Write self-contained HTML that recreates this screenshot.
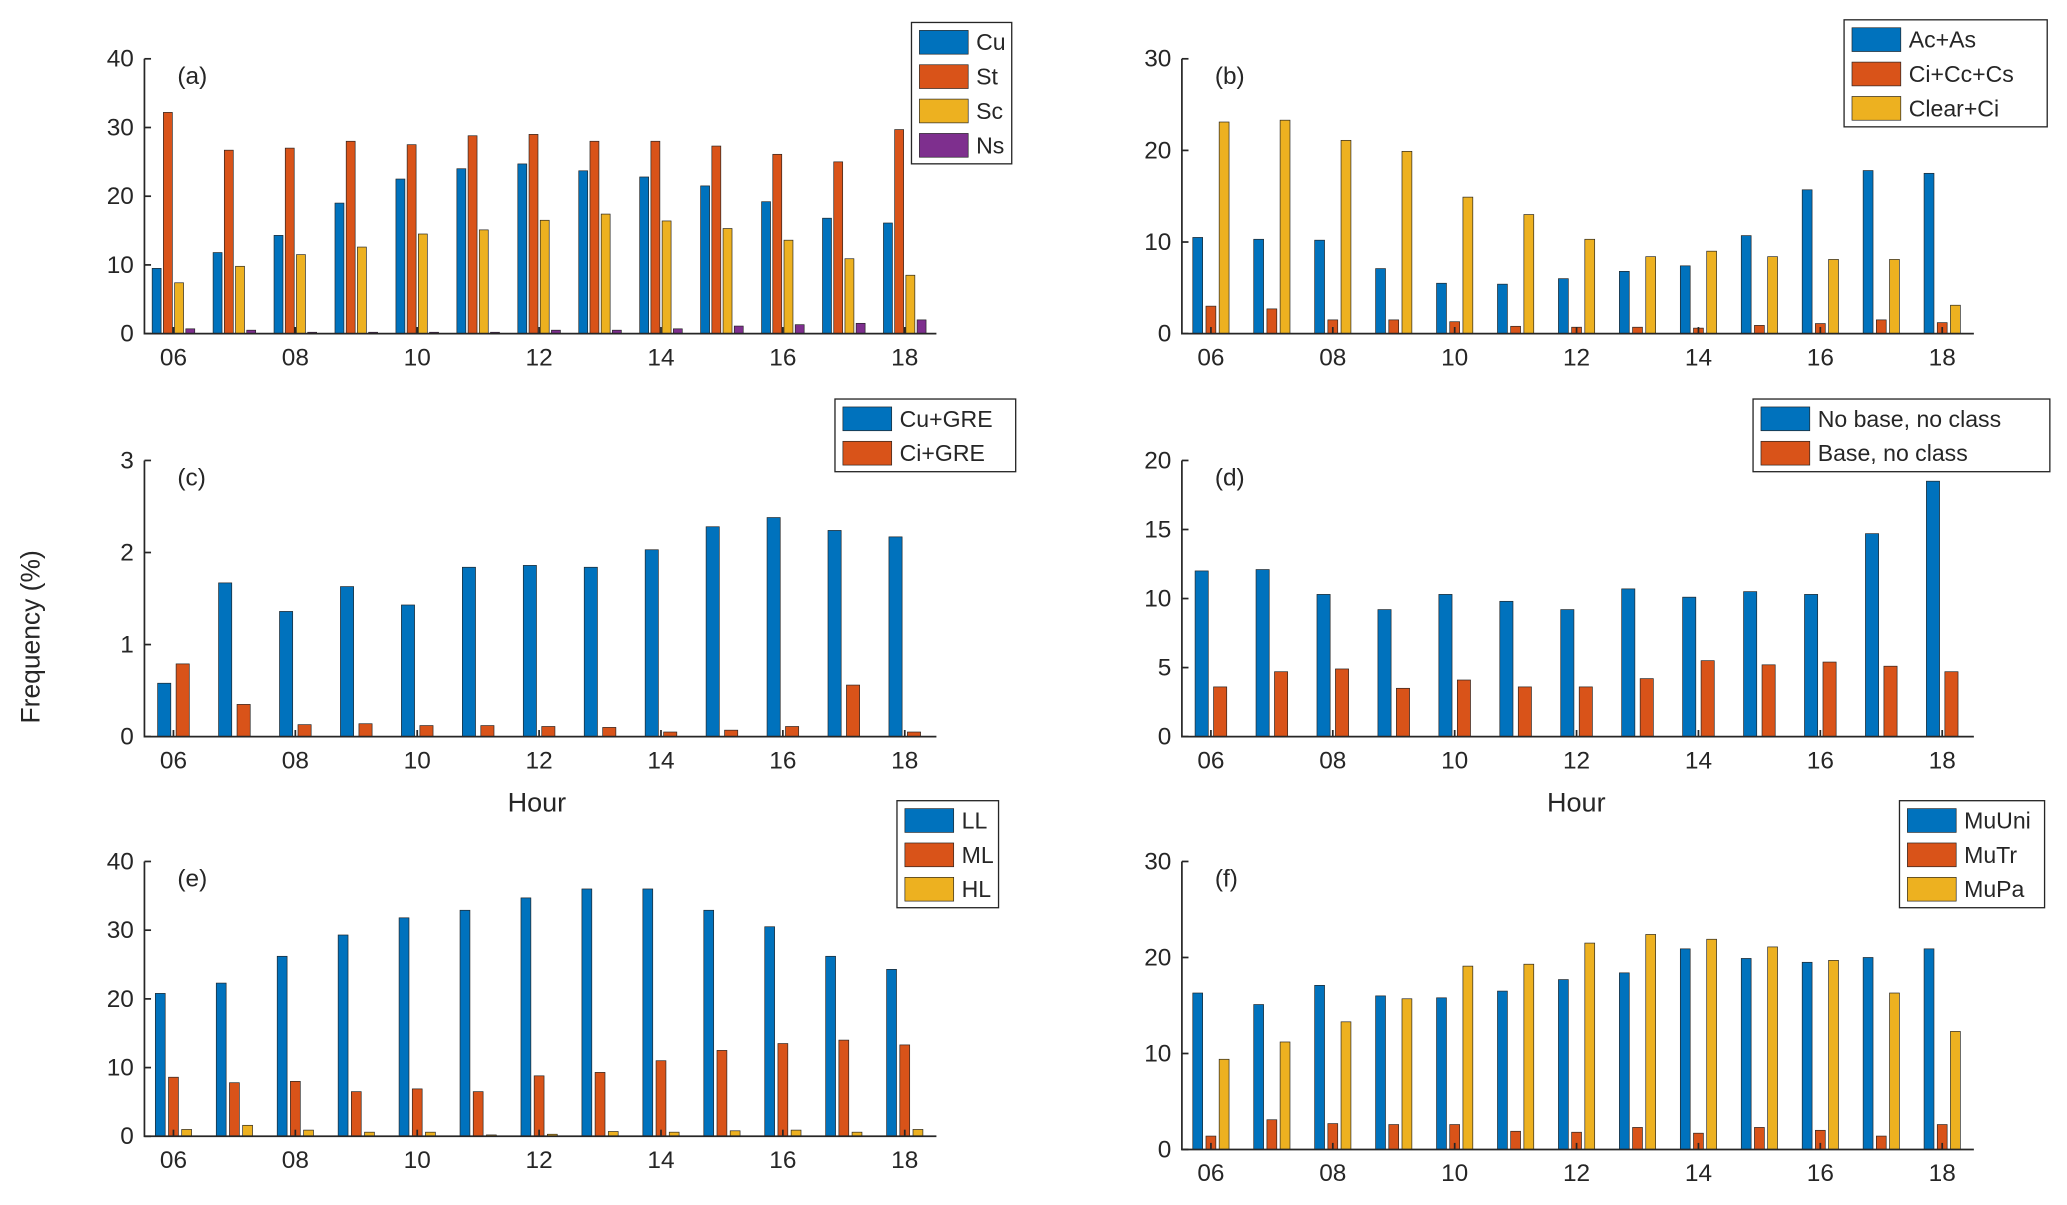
<!DOCTYPE html>
<html><head><meta charset="utf-8"><style>
html,body{margin:0;padding:0;background:#fff}
svg{display:block}
text{font-family:"Liberation Sans",sans-serif;fill:#262626}
</style></head><body>
<svg id="c" width="2067" height="1205" viewBox="0 0 1567 912" preserveAspectRatio="none" xmlns="http://www.w3.org/2000/svg"></svg>
<script>
const hours=[6,7,8,9,10,11,12,13,14,15,16,17,18];
const tickHours=[6,8,10,12,14,16,18];
const aCu=[9.5,11.8,14.3,19,22.5,24,24.7,23.7,22.8,21.5,19.2,16.8,16.1];
const aSt=[32.2,26.7,27,28,27.5,28.8,29,28,28,27.3,26.1,25,29.7];
const aSc=[7.4,9.8,11.5,12.6,14.5,15.1,16.5,17.4,16.4,15.3,13.6,10.9,8.5];
const aNs=[0.7,0.5,0.2,0.2,0.2,0.2,0.5,0.5,0.7,1.1,1.3,1.5,2];
const bAc=[10.5,10.3,10.2,7.1,5.5,5.4,6,6.8,7.4,10.7,15.7,17.8,17.5];
const bCi=[3,2.7,1.5,1.5,1.3,0.8,0.7,0.7,0.6,0.9,1.1,1.5,1.2];
const bClear=[23.1,23.3,21.1,19.9,14.9,13,10.3,8.4,9,8.4,8.1,8.1,3.1];
const cCu=[0.58,1.67,1.36,1.63,1.43,1.84,1.86,1.84,2.03,2.28,2.38,2.24,2.17];
const cCi=[0.79,0.35,0.13,0.14,0.12,0.12,0.11,0.10,0.05,0.07,0.11,0.56,0.05];
const dNoBase=[12,12.1,10.3,9.2,10.3,9.8,9.2,10.7,10.1,10.5,10.3,14.7,18.5];
const dBase=[3.6,4.7,4.9,3.5,4.1,3.6,3.6,4.2,5.5,5.2,5.4,5.1,4.7];
const eLL=[20.8,22.3,26.2,29.3,31.8,32.9,34.7,36,36,32.9,30.5,26.2,24.3];
const eML=[8.6,7.8,8,6.5,6.9,6.5,8.8,9.3,11,12.5,13.5,14,13.3];
const eHL=[1,1.6,0.9,0.6,0.6,0.2,0.3,0.7,0.6,0.8,0.9,0.6,1];
const fUni=[16.3,15.1,17.1,16,15.8,16.5,17.7,18.4,20.9,19.9,19.5,20,20.9];
const fTr=[1.4,3.1,2.7,2.6,2.6,1.9,1.8,2.3,1.7,2.3,2,1.4,2.6];
const fPa=[9.4,11.2,13.3,15.7,19.1,19.3,21.5,22.4,21.9,21.1,19.7,16.3,12.3];
const COLORS=['#0072BD','#D95319','#EDB120','#7E2F8E'];
const svg=document.getElementById('c');
const NS='http://www.w3.org/2000/svg';
function el(t,a,p){const e=document.createElementNS(NS,t);for(const k in a)e.setAttribute(k,a[k]);(p||svg).appendChild(e);return e;}
function panel(cfg){
  const g=el('g',{});
  
  
  const sp=46.2, x0=cfg.x0;
  const xs=h=>x0+(h-6)*sp;
  const ys=v=>cfg.bottom-(v/cfg.ymax)*(cfg.bottom-cfg.top);
  const left=x0-22, right=x0+12*sp+24;
  const n=cfg.series.length;
  const step=n===4?8.5:(n===3?10:14), bw=n===4?6.8:(n===3?7.5:10);
  cfg.series.forEach((s,si)=>{
    s.forEach((v,i)=>{
      const cx=xs(hours[i])+(si-(n-1)/2)*step;
      const r=el('rect',{x:cx-bw/2,y:ys(v),width:bw,height:Math.max(0.4,cfg.bottom-ys(v)),fill:COLORS[si],stroke:'#222','stroke-width':0.5},g);
      
      
    });
  });
  el('path',{d:`M${left},${cfg.top}V${cfg.bottom}H${right}`,stroke:'#262626','stroke-width':1.3,fill:'none'},g);
  cfg.yticks.forEach(v=>{
    const y=ys(v);
    el('line',{x1:left,x2:left+5,y1:y,y2:y,stroke:'#262626','stroke-width':1.3},g);
    const t=el('text',{x:left-8,y:y+6,'text-anchor':'end','font-size':18.5},g);t.textContent=v;
    
    
  });
  tickHours.forEach(h=>{
    const x=xs(h);
    el('line',{x1:x,x2:x,y1:cfg.bottom,y2:cfg.bottom-5,stroke:'#262626','stroke-width':1.3},g);
    const t=el('text',{x:x,y:cfg.bottom+24,'text-anchor':'middle','font-size':18.5},g);t.textContent=String(h).padStart(2,'0');
    
    
  });
  const lab=el('text',{x:left+25,y:cfg.top+19,'font-size':18.5},g);lab.textContent='('+cfg.id+')';
  
  
  const L=cfg.legend;
  const lg=el('g',{},g);
  
  
  el('rect',{x:L.x,y:L.y,width:L.w,height:n*26+3,fill:'#fff',stroke:'#262626','stroke-width':1},lg);
  cfg.names.forEach((nm,i)=>{
    const y=L.y+3+i*26;
    el('rect',{x:L.x+6,y:y+3,width:37,height:18,fill:COLORS[i],stroke:'#222','stroke-width':0.5},lg);
    const t=el('text',{x:L.x+49,y:y+18,'font-size':17.5},lg);t.textContent=nm;
    
    
  });
}
panel({id:'a',x0:131.5,top:44.5,bottom:252.5,ymax:40,yticks:[0,10,20,30,40],series:[aCu,aSt,aSc,aNs],names:['Cu','St','Sc','Ns'],legend:{x:691,y:17,w:76}});
panel({id:'b',x0:918,top:44.5,bottom:252.5,ymax:30,yticks:[0,10,20,30],series:[bAc,bCi,bClear],names:['Ac+As','Ci+Cc+Cs','Clear+Ci'],legend:{x:1398,y:15,w:154}});
panel({id:'c',x0:131.5,top:348.5,bottom:557.5,ymax:3,yticks:[0,1,2,3],series:[cCu,cCi],names:['Cu+GRE','Ci+GRE'],legend:{x:633,y:302,w:137}});
panel({id:'d',x0:918,top:348.5,bottom:557.5,ymax:20,yticks:[0,5,10,15,20],series:[dNoBase,dBase],names:['No base, no class','Base, no class'],legend:{x:1329,y:302,w:225}});
panel({id:'e',x0:131.5,top:652,bottom:860,ymax:40,yticks:[0,10,20,30,40],series:[eLL,eML,eHL],names:['LL','ML','HL'],legend:{x:680,y:606,w:77}});
panel({id:'f',x0:918,top:652,bottom:870,ymax:30,yticks:[0,10,20,30],series:[fUni,fTr,fPa],names:['MuUni','MuTr','MuPa'],legend:{x:1440,y:606,w:110}});
let t=el('text',{x:0,y:0,'font-size':20,'text-anchor':'middle',transform:'translate(30,482) rotate(-90)'});t.textContent='Frequency (%)';


t=el('text',{x:407,y:614,'font-size':20.5,'text-anchor':'middle'});t.textContent='Hour';


t=el('text',{x:1195,y:614,'font-size':20.5,'text-anchor':'middle'});t.textContent='Hour';


</script>
</body></html>
